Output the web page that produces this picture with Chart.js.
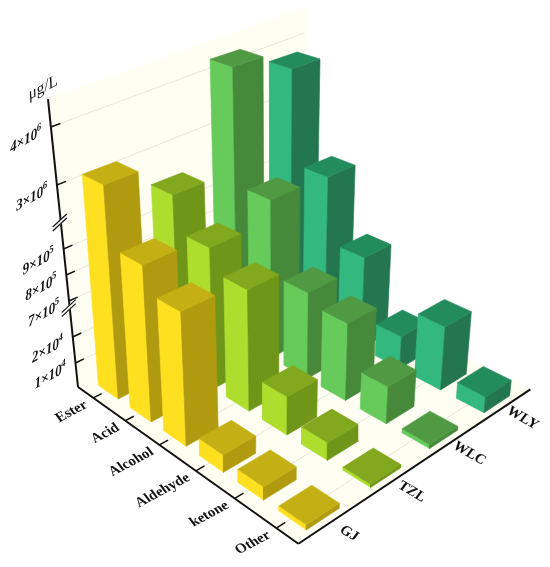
<!DOCTYPE html>
<html>
<head>
<meta charset="utf-8">
<script src="https://cdn.jsdelivr.net/npm/chart.js@4/dist/chart.umd.js"></script>
<style>
html, body { margin: 0; padding: 0; background: #fff; }
canvas { display: block; }
</style>
</head>
<body>
<canvas id="chart" width="550" height="567"></canvas>
<script>
const categories = ['Ester', 'Acid', 'Alcohol', 'Aldehyde', 'ketone', 'Other'];
const seriesNames = ['GJ', 'TZL', 'WLC', 'WLY'];

// values in ug/L
const gjValues = [3160000, 949000, 857000, 6750, 5030, 1900];
const tzlValues = [2510000, 905000, 821000, 14700, 6800, 1200];
const wlcValues = [4370000, 983000, 626000, 29300, 14300, 1600];
const wlyValues = [3976000, 976000, 723000, 12900, 24300, 6300];
const allValues = [gjValues, tzlValues, wlcValues, wlyValues];

const tickValues = [10000, 20000, 700000, 800000, 900000, 3000000, 4000000];
const tickBases = ['1', '2', '7', '8', '9', '3', '4'];
const tickPowers = ['4', '4', '5', '5', '5', '6', '6'];

// broken value axis: value -> share of axis length
const axisValues = [0, 10000, 20000, 30000, 700000, 800000, 900000, 1000000, 2400000, 3000000, 4000000, 4460000];
const axisShares = [0, 0.0928, 0.1911, 0.2894, 0.3238, 0.4171, 0.5087, 0.601, 0.614, 0.7256, 0.9129, 1];
const breakShares = [0.296, 0.598];

// faces of each series: left, right, top
const seriesColors = [
    ['#FFE020', '#B09A10', '#C4B014'],
    ['#AEDD2E', '#6F9618', '#82A81E'],
    ['#66CB5A', '#46893A', '#4F9A42'],
    ['#33B87F', '#247650', '#238C5C']
];

// perspective camera, from the three vanishing points of the picture
const vpU = [-930, -330], vpV = [1822, -470], vpZ = [275, 2700];
const origin = [78, 387];
const kU = -0.0299, kV = 0.03685, kZ = -0.1107;
// the value axis leans a bit more than the bars, the wall rises a bit faster
const wallLean = 5.5, wallRise = 11;

function project(u, v, z) {
    const w = 1 + kU * u + kV * v + kZ * z;
    return {
        x: (origin[0] + kU * u * vpU[0] + kV * v * vpV[0] + kZ * z * vpZ[0]) / w,
        y: (origin[1] + kU * u * vpU[1] + kV * v * vpV[1] + kZ * z * vpZ[1]) / w
    };
}

// point on the back wall
function wallPoint(v, z) {
    const p = project(0, v, z);
    return { x: p.x - wallLean * z * (1 - v / 4), y: p.y - wallRise * z * (v / 4) };
}

function shareOf(value) {
    for (let i = 1; i < axisValues.length; i++) {
        if (value <= axisValues[i]) {
            const t = (value - axisValues[i - 1]) / (axisValues[i] - axisValues[i - 1]);
            return axisShares[i - 1] + t * (axisShares[i] - axisShares[i - 1]);
        }
    }
    return 1;
}

function polygon(points, color) {
    return {
        type: 'scatter', data: points.concat([points[0]]), showLine: true, fill: 'shape',
        backgroundColor: color, borderColor: color, borderWidth: 0.6, pointRadius: 0, clip: false
    };
}

function line(a, b, color, width) {
    return {
        type: 'scatter', data: [a, b], showLine: true, fill: false,
        borderColor: color, borderWidth: width, pointRadius: 0, clip: false
    };
}

// paint order, first one lies at the back
const layers = [];
const wallColor = '#FFFEF3';
const gridColor = '#E6E5D8';

layers.push(polygon([wallPoint(0, 0), wallPoint(4, 0), wallPoint(4, 1), wallPoint(0, 1)], wallColor));
layers.push(polygon([project(0, 0, 0), project(6, 0, 0), project(6, 4, 0), project(0, 4, 0)], wallColor));

tickValues.forEach(val => {
    layers.push(line(wallPoint(0, shareOf(val)), wallPoint(4, shareOf(val)), gridColor, 1));
});
categories.forEach((cat, i) => {
    layers.push(line(project(i + 0.5, 0, 0), project(i + 0.5, 4, 0), gridColor, 1));
});

const uFrom = 0.23, uTo = 0.86, vFrom = 0.21, vTo = 0.71;
for (let j = seriesNames.length - 1; j >= 0; j--) {
    categories.forEach((cat, i) => {
        const z = shareOf(allValues[j][i]);
        const u0 = i + uFrom, u1 = i + uTo, v0 = j + vFrom, v1 = j + vTo;
        layers.push(polygon([project(u0, v0, 0), project(u1, v0, 0), project(u1, v0, z), project(u0, v0, z)], seriesColors[j][0]));
        layers.push(polygon([project(u1, v0, 0), project(u1, v1, 0), project(u1, v1, z), project(u1, v0, z)], seriesColors[j][1]));
        layers.push(polygon([project(u0, v0, z), project(u1, v0, z), project(u1, v1, z), project(u0, v1, z)], seriesColors[j][2]));
    });
}

// axes
const axisColor = '#111';
layers.push(line(wallPoint(0, 0), wallPoint(0, 1), axisColor, 2));
layers.push(line(project(0, 0, 0), project(6, 0, 0), axisColor, 2));
layers.push(line(project(6, 0, 0), project(6, 4, 0), axisColor, 2));
tickValues.forEach(val => {
    layers.push(line(wallPoint(0, shareOf(val)), wallPoint(0.13, shareOf(val)), axisColor, 1.5));
});
categories.forEach((cat, i) => {
    layers.push(line(project(i + 0.5, 0, 0), project(i + 0.5, 0.13, 0), axisColor, 1.5));
});
breakShares.forEach(share => {
    const c = wallPoint(0, share);
    layers.push(line({ x: c.x - 8, y: c.y + 6 }, { x: c.x + 6, y: c.y - 7 }, '#fff', 4));
    layers.push(line({ x: c.x - 8, y: c.y + 4 }, { x: c.x + 6, y: c.y - 9 }, axisColor, 1.2));
    layers.push(line({ x: c.x - 8, y: c.y + 8 }, { x: c.x + 6, y: c.y - 5 }, axisColor, 1.2));
});

function slantedText(ctx, scales, x, y, align, base, up, draw) {
    ctx.save();
    ctx.translate(scales.x.getPixelForValue(x), scales.y.getPixelForValue(y));
    ctx.transform(base[0], base[1], -up[0], -up[1], 0, 0);
    ctx.textAlign = align;
    ctx.textBaseline = 'alphabetic';
    draw(ctx);
    ctx.restore();
}

const textPlugin = {
    id: 'axisText',
    afterDraw(chart) {
        const ctx = chart.ctx, scales = chart.scales;
        ctx.fillStyle = '#111';

        tickValues.forEach((val, i) => {
            const p = wallPoint(0, shareOf(val));
            slantedText(ctx, scales, p.x - 9, p.y + 8, 'right', [0.87, -0.5], [-0.08, -1], c => {
                c.font = 'italic bold 10px "Liberation Serif"';
                c.fillText(tickPowers[i], 0, -6);
                const w = c.measureText(tickPowers[i]).width;
                c.font = 'italic bold 15px "Liberation Serif"';
                c.fillText(tickBases[i] + '\u00d710', -w, 0);
            });
        });

        const top = wallPoint(0, 1);
        slantedText(ctx, scales, top.x - 19, top.y + 1, 'left', [0.88, -0.47], [-0.05, -1], c => {
            c.font = '17px "Liberation Serif"';
            c.fillText('\u03bcg/L', 0, 0);
        });

        categories.forEach((cat, i) => {
            const p = project(i + 0.5, 0, 0);
            slantedText(ctx, scales, p.x - 5, p.y + 9, 'right', [0.88, -0.47], [-0.6, -0.8], c => {
                c.font = 'bold 14.5px "Liberation Serif"';
                c.fillText(cat, 0, 0);
            });
        });

        seriesNames.forEach((name, j) => {
            const p = project(6, j + 0.5, 0);
            slantedText(ctx, scales, p.x + 15, p.y + 15, 'center', [0.87, 0.5], [0.6, -0.8], c => {
                c.font = 'bold 14.5px "Liberation Serif"';
                c.fillText(name, 0, 0);
            });
        });
    }
};

new Chart(document.getElementById('chart'), {
    type: 'scatter',
    data: { datasets: layers.reverse() },
    options: {
        responsive: false,
        animation: false,
        layout: { padding: 0 },
        plugins: { legend: { display: false }, tooltip: { enabled: false }, title: { display: false } },
        scales: {
            x: { type: 'linear', min: 0, max: 550, display: false },
            y: { type: 'linear', min: 0, max: 567, reverse: true, display: false }
        }
    },
    plugins: [textPlugin]
});
</script>
</body>
</html>
